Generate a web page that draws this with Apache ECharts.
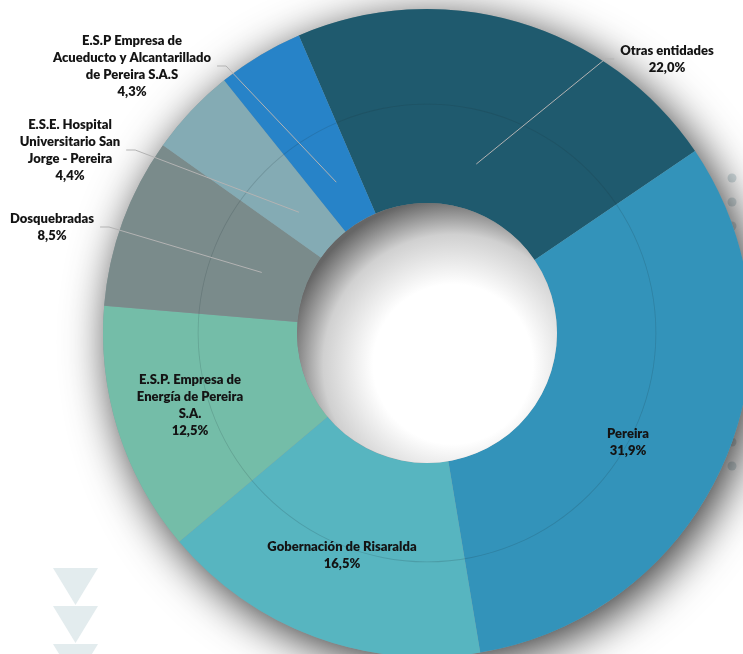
<!DOCTYPE html>
<html>
<head>
<meta charset="utf-8">
<script src="https://cdn.jsdelivr.net/npm/echarts@6/dist/echarts.min.js"></script>
<style>
  html, body { margin: 0; padding: 0; background: #fff; }
  #chart { width: 743px; height: 654px; }
</style>
</head>
<body>
<div id="chart"></div>
<script>
// datos
var names = ['Otras entidades', 'Pereira', 'Gobernación de Risaralda',
  'E.S.P. Empresa de Energía de Pereira S.A.', 'Dosquebradas',
  'E.S.E. Hospital Universitario San Jorge - Pereira',
  'E.S.P Empresa de Acueducto y Alcantarillado de Pereira S.A.S']
var values = [22.0, 31.9, 16.5, 12.5, 8.5, 4.4, 4.3]
// texto de las etiquetas (con saltos de linea)
var labelText = ['Otras entidades', 'Pereira', 'Gobernación de Risaralda',
  'E.S.P. Empresa de\nEnergía de Pereira\nS.A.', 'Dosquebradas',
  'E.S.E. Hospital\nUniversitario San\nJorge - Pereira',
  'E.S.P Empresa de\nAcueducto y Alcantarillado\nde Pereira S.A.S']
var colors = ['#1f5a6e', '#3393ba', '#57b5c0', '#74bda8', '#7a8b8b', '#84abb4', '#2783c8']
// etiquetas fuera del anillo -> posicion del texto
var outsidePos = {
  'Otras entidades': [667, 59],
  'Dosquebradas': [52, 227],
  'E.S.E. Hospital Universitario San Jorge - Pereira': [70, 150],
  'E.S.P Empresa de Acueducto y Alcantarillado de Pereira S.A.S': [132, 66]
}
// etiquetas dentro del anillo
var insidePos = {
  'Pereira': [628, 442],
  'Gobernación de Risaralda': [342, 555],
  'E.S.P. Empresa de Energía de Pereira S.A.': [190, 405]
}

var center = [427, 333]
var startAngle = 113.3

function pct(v) {
  return v.toFixed(1).replace('.', ',') + '%'
}

var labelFont = {
  color: '#141414',
  fontSize: 13,
  fontWeight: 800,
  fontFamily: 'Lato',
  lineHeight: 17,
  align: 'center'
}

var mainData = names.map(function (n, i) {
  return {
    name: n,
    value: values[i],
    itemStyle: { color: colors[i] },
    label: Object.assign({
      show: !!insidePos[n],
      position: 'inside',
      formatter: labelText[i] + '\n' + pct(values[i])
    }, labelFont)
  }
})

var overlayData = names.map(function (n, i) {
  var outside = !!outsidePos[n]
  return {
    name: n,
    value: values[i],
    label: Object.assign({
      show: outside,
      position: 'outside',
      padding: [0, 6],
      formatter: labelText[i] + '\n' + pct(values[i])
    }, labelFont),
    labelLine: { show: outside }
  }
})

// decoracion: puntos a la derecha y triangulos abajo
var decor = []
for (var k = 0; k < 13; k++) {
  decor.push({
    type: 'circle', z: 0,
    shape: { cx: 732, cy: 178 + k * 24, r: 4.5 },
    style: { fill: '#d5e0e3' }
  })
}
for (var t = 0; t < 3; t++) {
  decor.push({
    type: 'polygon', z: 0,
    shape: { points: [[53, 568 + t * 38], [98, 568 + t * 38], [75.5, 605 + t * 38]] },
    style: { fill: '#e3ecee' }
  })
}

var option = {
  backgroundColor: '#fff',
  animation: false,
  graphic: decor,
  series: [
    { // sombra del anillo
      type: 'pie', silent: true, center: center, radius: [130, 324],
      label: { show: false },
      itemStyle: {
        color: '#8a9a9e',
        shadowBlur: 45,
        shadowColor: 'rgba(0,0,0,0.8)',
        shadowOffsetX: 7,
        shadowOffsetY: 9
      },
      data: [{ value: 1 }]
    },
    {
      type: 'pie', silent: true, center: center, radius: [130, 324],
      startAngle: startAngle, clockwise: true,
      avoidLabelOverlap: false,
      labelLine: { show: false },
      labelLayout: function (params) {
        var p = insidePos[names[params.dataIndex]]
        if (!p) return {}
        return { x: p[0], y: p[1], align: 'center', verticalAlign: 'middle' }
      },
      data: mainData
    },
    { // circulo interior tenue
      type: 'pie', silent: true, center: center, radius: [228.5, 229.3],
      label: { show: false },
      itemStyle: { color: 'rgba(30,50,55,0.18)' },
      data: [{ value: 1 }]
    },
    { // hueco central con sombra interior
      type: 'pie', silent: true, center: center, radius: [0, 130],
      label: { show: false },
      itemStyle: {
        color: new echarts.graphic.RadialGradient(0.6, 0.62, 0.64, [
          { offset: 0, color: '#ffffff' },
          { offset: 0.48, color: '#ffffff' },
          { offset: 0.78, color: '#d0d0d0' },
          { offset: 1, color: '#666666' }
        ])
      },
      data: [{ value: 1 }]
    },
    { // capa transparente para etiquetas externas
      type: 'pie', silent: true, z: 6, center: center, radius: [170, 176],
      startAngle: startAngle, clockwise: true,
      avoidLabelOverlap: false,
      itemStyle: { color: 'rgba(0,0,0,0)' },
      labelLine: {
        length: 5,
        length2: 9,
        lineStyle: { color: '#b3b3b3', width: 1 }
      },
      labelLayout: function (params) {
        var p = outsidePos[names[params.dataIndex]]
        if (!p) return {}
        var anchor = params.labelLinePoints[0]
        var half = params.labelRect.width / 2
        var side = anchor[0] < p[0] ? -1 : 1
        var sx = p[0] + side * half
        return {
          x: p[0], y: p[1], align: 'center', verticalAlign: 'middle',
          labelLinePoints: [anchor, [sx + side * 9, p[1]], [sx, p[1]]]
        }
      },
      data: overlayData
    }
  ]
}

var chart = echarts.init(document.getElementById('chart'))
chart.setOption(option)
</script>
</body>
</html>
